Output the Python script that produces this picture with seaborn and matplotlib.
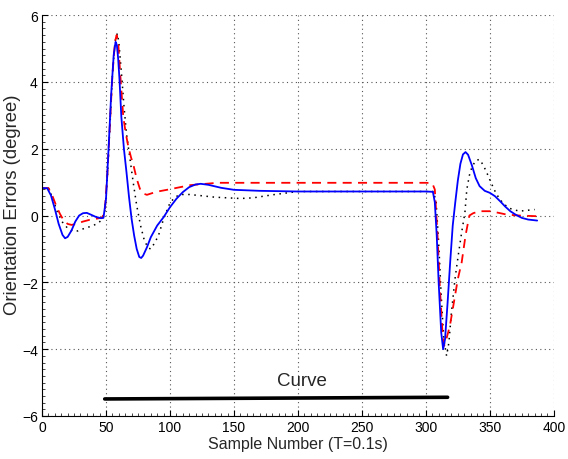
import numpy as np
import pandas as pd
import matplotlib
matplotlib.use("Agg")
import matplotlib.pyplot as plt
from matplotlib.ticker import MultipleLocator
import seaborn as sns

# ---- data ----
blue_x = [0, 4, 7, 10, 13, 16, 18, 20, 23, 26, 29, 32, 35, 38, 42, 46, 48, 50, 52, 54, 56, 57.5, 58.5, 59.5,
          60.5, 62, 64, 66, 68, 70, 72, 74, 76, 77.5, 79, 82, 85, 90, 95, 100, 105, 110, 115, 120, 124, 130,
          140, 150, 170, 200, 250, 280, 300, 305.5, 307, 308.5, 310, 312, 313.5, 315, 317, 319, 321, 323,
          325, 327, 329, 331, 333, 336, 339, 342, 346, 350, 354, 358, 362, 366, 370, 375, 380, 387]
blue_y = [0.82, 0.82, 0.6, 0.2, -0.25, -0.58, -0.68, -0.64, -0.45, -0.18, 0.0, 0.07, 0.08, 0.03, -0.04,
          -0.08, -0.07, 0.5, 2.0, 3.6, 4.8, 5.2, 5.1, 4.7, 4.1, 2.95, 2.0, 1.3, 0.55, -0.1, -0.6, -1.0,
          -1.24, -1.27, -1.2, -0.95, -0.65, -0.3, -0.05, 0.25, 0.5, 0.7, 0.85, 0.93, 0.95, 0.92, 0.83,
          0.77, 0.74, 0.72, 0.72, 0.72, 0.72, 0.71, 0.4, -0.6, -2.0, -3.5, -4.0, -3.7, -2.6, -1.4, -0.3,
          0.4, 1.05, 1.55, 1.83, 1.9, 1.82, 1.5, 1.12, 0.88, 0.74, 0.68, 0.58, 0.43, 0.27, 0.13, 0.03,
          -0.07, -0.12, -0.15]

red_x = [0, 5, 8, 11, 14, 17, 20, 23, 27, 32, 37, 42, 47, 49, 51, 53, 55, 57, 58.3, 59.5, 61, 63.5, 65.5,
         67.5, 69.5, 71.5, 74, 76.5, 79, 82, 86, 92, 99, 108, 116, 125, 137, 160, 200, 250, 300, 305, 307,
         309, 311, 313, 314.3, 316, 318.8, 322.7, 325, 328, 331, 334, 337, 342, 350, 357, 363, 373, 387]
red_y = [0.82, 0.82, 0.6, 0.3, 0.05, -0.15, -0.25, -0.28, -0.25, -0.18, -0.13, -0.1, -0.06, 0.1, 1.2, 2.7,
         4.2, 5.2, 5.4, 5.2, 4.3, 2.95, 2.45, 2.05, 1.75, 1.5, 1.1, 0.8, 0.66, 0.62, 0.67, 0.73, 0.78,
         0.85, 0.91, 0.94, 0.98, 0.98, 0.98, 0.98, 0.98, 0.97, 0.78, -0.5, -2.2, -3.5, -3.9, -3.7, -3.3,
         -2.42, -1.9, -1.4, -0.6, 0.0, 0.07, 0.13, 0.13, 0.08, 0.03, 0.0, -0.02]

dot_x = [0, 5, 8, 12, 16, 20, 24, 28, 32, 36, 40, 44, 47, 49, 51, 53, 55, 57, 58.8, 60, 62, 64, 66, 68.8,
         71.3, 74, 77, 80, 83, 85, 88, 91, 95, 100, 104, 108, 115, 123, 135, 155, 165, 180, 200, 230, 260,
         300, 306, 308, 310, 312, 314, 316.2, 318, 320, 322.7, 325.2, 328, 330.5, 332, 334, 336, 339, 342,
         345, 348, 351, 355, 360, 365, 373, 380, 385]
dot_y = [0.82, 0.82, 0.55, 0.1, -0.2, -0.38, -0.47, -0.46, -0.4, -0.35, -0.3, -0.22, -0.12, 0.1, 1.1, 2.6,
         4.2, 5.2, 5.45, 5.2, 4.3, 3.3, 2.45, 1.68, 0.98, 0.3, -0.3, -0.75, -0.97, -1.0, -0.82, -0.6,
         -0.1, 0.38, 0.55, 0.63, 0.63, 0.6, 0.55, 0.51, 0.53, 0.62, 0.72, 0.72, 0.72, 0.72, 0.72, 0.4,
         -0.8, -2.4, -3.7, -4.2, -3.8, -2.9, -1.92, -1.22, -0.5, 0.08, 0.78, 1.2, 1.45, 1.65, 1.68, 1.5,
         1.25, 0.98, 0.65, 0.38, 0.22, 0.13, 0.16, 0.18]

curve_x = [49, 317]
curve_y = [-5.49, -5.44]
curve_label = "Curve"
curve_label_pos = (203, -4.95)

x_ticks = [0, 50, 100, 150, 200, 250, 300, 350, 400]
y_ticks = [-6, -4, -2, 0, 2, 4, 6]
y_tick_labels = ["\u22126", "\u22124", "\u22122", "0", "2", "4", "6"]

# ---- build long table ----
df = pd.concat([
    pd.DataFrame({"x": blue_x, "y": blue_y, "s": "blue"}),
    pd.DataFrame({"x": red_x, "y": red_y, "s": "red"}),
    pd.DataFrame({"x": dot_x, "y": dot_y, "s": "dot"}),
], ignore_index=True)

sns.set_theme(style="white")
plt.rcParams["font.family"] = ["Liberation Sans", "DejaVu Sans"]

fig = plt.figure(figsize=(5.68, 4.6), dpi=100)
ax = fig.add_axes([0.074, 0.0935, 0.901, 0.8715])

palette = {"blue": "#0000ff", "red": "#ff0000", "dot": "#000000"}
dashes = {"blue": "", "red": (5, 3.5), "dot": (1, 3)}
sizes = {"blue": 1.3, "red": 1.3, "dot": 1.1}
for key in ["dot", "red", "blue"]:
    sub = df[df["s"] == key]
    sns.lineplot(data=sub, x="x", y="y", ax=ax, color=palette[key], estimator=None, sort=False,
                 linewidth=sizes[key], legend=False)
    line = ax.lines[-1]
    if dashes[key]:
        line.set_dashes(dashes[key])

sns.lineplot(x=curve_x, y=curve_y, ax=ax, color="black", linewidth=2.6, estimator=None, sort=False,
             legend=False)
ax.text(curve_label_pos[0], curve_label_pos[1], curve_label, ha="center", va="center", fontsize=13.5)

ax.set_xlim(0, 400)
ax.set_ylim(-6, 6)
ax.set_xticks(x_ticks)
ax.set_yticks(y_ticks)
ax.set_yticklabels(y_tick_labels)
ax.xaxis.set_minor_locator(MultipleLocator(5))
ax.yaxis.set_minor_locator(MultipleLocator(0.2))
ax.tick_params(which="major", direction="in", length=4, width=0.8, labelsize=10, colors="black",
               bottom=True, left=True, top=False, right=False, pad=3)
ax.tick_params(which="minor", direction="in", length=2, width=0.6, bottom=True, left=True,
               top=False, right=False)
ax.grid(True, which="major", linestyle=(0, (1, 3)), color="#555555", linewidth=0.8)
for side in ["top", "right"]:
    ax.spines[side].set_visible(False)
for side in ["left", "bottom"]:
    ax.spines[side].set_color("black")
    ax.spines[side].set_linewidth(0.8)

ax.set_xlabel("Sample Number (T=0.1s)", fontsize=11.5, labelpad=1)
ax.set_ylabel("Orientation Errors (degree)", fontsize=13.3)
ax.yaxis.set_label_coords(-0.042, 0.529)

fig.savefig("out.png", dpi=100)
